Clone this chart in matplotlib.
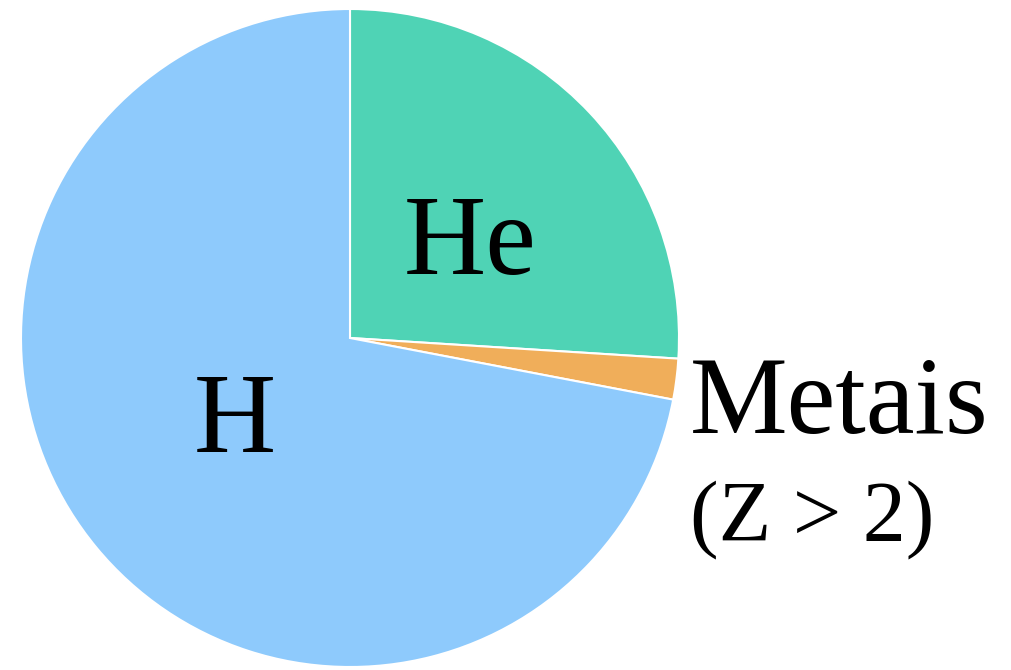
"""Pie chart of the mass composition: H, He and metals."""

import matplotlib

matplotlib.use("Agg")
import matplotlib.pyplot as plt

labels = ["He", "Metais", "H"]
shares = [26, 2, 72]
colors = ["#4FD3B5", "#F0AE5A", "#8ECAFC"]

W, H = 1011, 670
CENTER = (350, 332)
RADIUS = 329

fig = plt.figure(figsize=(W / 100, H / 100), dpi=100)
ax = fig.add_axes([0, 0, 1, 1])
ax.pie(
    shares,
    colors=colors,
    startangle=90,
    counterclock=False,
    center=CENTER,
    radius=RADIUS,
    frame=True,
    wedgeprops=dict(edgecolor="white", linewidth=1.5),
)
ax.set_xlim(0, W)
ax.set_ylim(0, H)
ax.set_aspect("equal")
ax.axis("off")

font = dict(family="Liberation Serif", color="black")
ax.text(470, H - 274, "He", fontsize=82, ha="center", va="baseline", **font)
ax.text(235, H - 452, "H", fontsize=82, ha="center", va="baseline", **font)
ax.text(690, H - 433, "Metais", fontsize=79, ha="left", va="baseline", **font)
ax.text(690, H - 540, "(Z > 2)", fontsize=62, ha="left", va="baseline", **font)

fig.savefig("out.png", dpi=100)
plt.close(fig)
